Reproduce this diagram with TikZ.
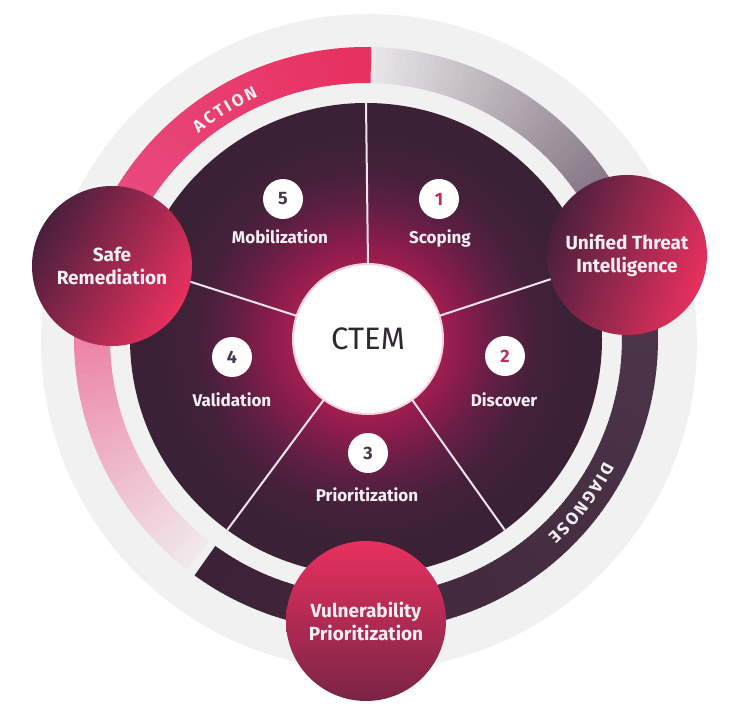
\documentclass[tikz,border=0pt]{standalone}
\usepackage{fontspec}
\setmainfont{Fira Sans}
\usetikzlibrary{decorations.text}

\definecolor{ringgrey}{HTML}{F1F1F2}
\definecolor{bandlight}{HTML}{E9E7E9}
\definecolor{banddusk}{HTML}{6C5B6B}
\definecolor{banddusktwo}{HTML}{4E384B}
\definecolor{banddark}{HTML}{3D2237}
\definecolor{pinkA}{HTML}{E7305F}
\definecolor{pinkmid}{HTML}{E94A7E}
\definecolor{pinkfade}{HTML}{F1EBEE}
\definecolor{discdark}{HTML}{3A2136}
\definecolor{glowred}{HTML}{A01E4F}
\definecolor{glowmid}{HTML}{881C4B}
\definecolor{glowlow}{HTML}{621F44}
\definecolor{hubring}{HTML}{F3D3DE}
\definecolor{ctemtext}{HTML}{2E2A30}
\definecolor{labelwhite}{HTML}{F4EFF2}
\definecolor{spokewhite}{HTML}{F0E4EA}
\definecolor{hubdark}{HTML}{4A1F3C}
\definecolor{hubpink}{HTML}{E8305E}
\definecolor{numpink}{HTML}{C22A62}
\definecolor{numdark}{HTML}{4A3850}

\pgfdeclareradialshading{discglow}{\pgfpoint{0bp}{0bp}}{color(0bp)=(glowred); color(8bp)=(glowred); color(10.5bp)=(glowmid); color(14bp)=(glowlow); color(18bp)=(discdark!75!glowlow); color(22bp)=(discdark); color(50bp)=(discdark)}

\begin{document}
\begin{tikzpicture}[x=1pt, y=1pt,
    band_seg/.style={line width=36pt},
    hub_node/.style={circle, minimum size=150pt, inner sep=0pt, outer sep=0pt, fill=white, draw=hubring, line width=2pt, text=ctemtext, font=\fontsize{31}{31}\selectfont},
    num_node/.style={circle, minimum size=40pt, inner sep=0pt, fill=white, font=\bfseries\fontsize{18}{18}\selectfont},
    step_label/.style={anchor=base, text=labelwhite, font=\bfseries\fontsize{17}{17}\selectfont},
    big_node/.style={circle, minimum size=160pt, inner sep=0pt, align=center, text=labelwhite, font=\bfseries\fontsize{19}{23}\selectfont},
    spoke/.style={draw=spokewhite, line width=2pt},
    band_text/.style={decorate, decoration={text along path, text color=labelwhite, text align={fit to path}}}]
    \useasboundingbox (-366,-373) rectangle (364,339);
    \fill[ringgrey] (3,-3) circle (328);
    \foreach \a in {-126,...,17} {
        \pgfmathtruncatemacro\p{(\a+126)/144*100}
        \draw[band_seg, draw=banddusktwo!\p!banddark] (\a:274) arc[start angle=\a, end angle=\a+1.2, radius=274];
    }
    \foreach \a in {18,...,88} {
        \pgfmathtruncatemacro\p{(\a-18)/70*100}
        \draw[band_seg, draw=bandlight!\p!banddusk] (\a:274) arc[start angle=\a, end angle=\a+1.2, radius=274];
    }
    \foreach \a in {89,...,149} {
        \pgfmathtruncatemacro\p{(\a-89)/61*100}
        \draw[band_seg, draw=pinkmid!\p!pinkA] (\a:274) arc[start angle=\a, end angle=\a+1.2, radius=274];
    }
    \foreach \a in {150,...,231} {
        \pgfmathtruncatemacro\p{(\a-150)/82*100}
        \draw[band_seg, draw=pinkfade!\p!pinkmid] (\a:274) arc[start angle=\a, end angle=\a+1.2, radius=274];
    }
    \node[circle, minimum size=472pt, inner sep=0pt, outer sep=0pt, shade, shading=discglow] (disc) at (0,0) {};
    \node[hub_node] (ctem) at (2,0) {CTEM};
    \foreach \a in {90,18,-54,-126,162}
        \draw[spoke] (ctem.\a) -- (disc.\a);
    \node[num_node, text=numpink] (n1) at (73,140) {1};
    \node[step_label] (t1) at (74,95) {Scoping};
    \node[num_node, text=numpink] (n2) at (139,-17) {2};
    \node[step_label] (t2) at (138,-67) {Discover};
    \node[num_node, text=numdark] (n3) at (2,-114) {3};
    \node[step_label] (t3) at (1,-162) {Prioritization};
    \node[num_node, text=numdark] (n4) at (-134,-18) {4};
    \node[step_label] (t4) at (-134,-67) {Validation};
    \node[num_node, text=numdark] (n5) at (-83,140) {5};
    \node[step_label] (t5) at (-86,95) {Mobilization};
    \node[big_node, left color=hubdark, right color=hubpink, shading angle=60] (safe) at (-254,73) {Safe\\Remediation};
    \node[big_node, left color=hubdark, right color=hubpink, shading angle=70] (unified) at (261,84) {Unified Threat\\Intelligence};
    \node[big_node, top color=hubpink, bottom color=hubdark!70!hubpink] (vuln) at (0,-282) {Vulnerability\\Prioritization};
    \path[band_text, decoration={text={|\bfseries\fontsize{17}{17}\selectfont|ACTION}}] (129.2:265) arc[start angle=129.2, end angle=114, radius=265];
    \path[band_text, decoration={text={|\bfseries\fontsize{17}{17}\selectfont|DIAGNOSE}}] (-27.3:268) arc[start angle=-27.3, end angle=-47.3, radius=268];
\end{tikzpicture}
\end{document}
